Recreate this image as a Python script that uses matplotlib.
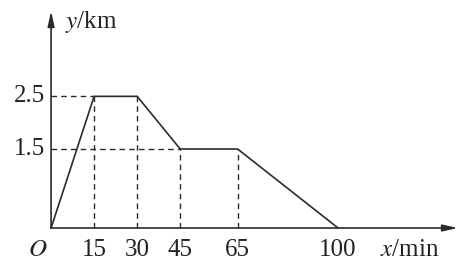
import matplotlib.pyplot as plt

plt.rcParams['font.family'] = ['Liberation Serif', 'DejaVu Serif']
plt.rcParams['mathtext.fontset'] = 'stix'

# data
x_min = [0, 15, 30, 45, 65, 100]
y_km = [0, 2.5, 2.5, 1.5, 1.5, 0]
x_ticks = [15, 30, 45, 65, 100]
y_ticks = [1.5, 2.5]
ink = '#2b2b2b'

fig = plt.figure(figsize=(4.6, 2.62), dpi=100)
ax = fig.add_axes([0, 0, 1, 1])
ax.set_xlim(-17.8, 142.5)
ax.set_ylim(-0.646, 4.33)
ax.axis('off')

# axes with arrows
ax.annotate('', xy=(141.8, 0), xytext=(0, 0),
            arrowprops=dict(arrowstyle='-|>,head_length=0.9,head_width=0.2',
                            color=ink, lw=1.2, shrinkA=0, shrinkB=0))
ax.annotate('', xy=(0, 4.12), xytext=(0, 0),
            arrowprops=dict(arrowstyle='-|>,head_length=0.9,head_width=0.2',
                            color=ink, lw=1.2, shrinkA=0, shrinkB=0))

# graph
ax.plot(x_min, y_km, color=ink, lw=1.2, solid_joinstyle='miter')

# dashed guide lines
for xv, yv in zip(x_min[1:5], y_km[1:5]):
    ax.plot([xv, xv], [0, yv], color=ink, lw=1.0, ls=(0, (4, 3)))
for yv in y_ticks:
    xv = x_min[y_km.index(yv)]
    ax.plot([0, xv], [yv, yv], color=ink, lw=1.0, ls=(0, (4, 3)))

# labels
fs = 18
base = -0.53
for xv in x_ticks:
    ax.text(xv, base, str(xv), ha='center', va='baseline', fontsize=fs, color='#222')
ax.text(-4.5, base, '$O$', ha='center', va='baseline', fontsize=fs, color='#222')
for yv in y_ticks:
    ax.text(-2.0, yv, str(yv), ha='right', va='center', fontsize=fs, color='#222')
ax.text(114.5, base, '$x$/min', ha='left', va='baseline', fontsize=fs, color='#222')
ax.text(5.0, 3.92, '$y$/km', ha='left', va='center', fontsize=fs, color='#222')

fig.savefig('out.png', dpi=100)
